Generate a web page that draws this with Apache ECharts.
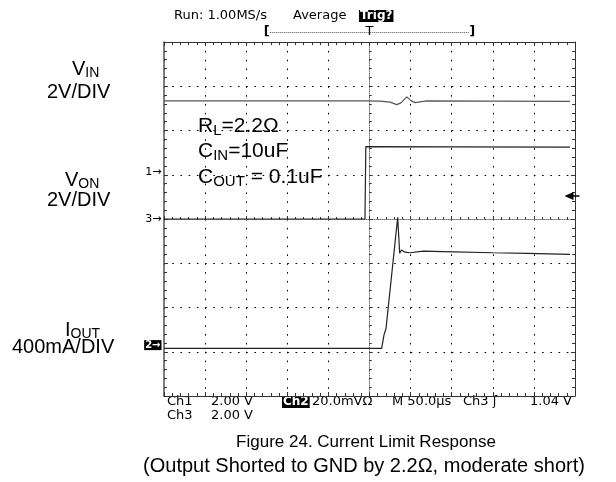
<!DOCTYPE html>
<html><head><meta charset="utf-8">
<script src="https://cdn.jsdelivr.net/npm/echarts@6/dist/echarts.min.js"></script>
<style>html,body{margin:0;padding:0;background:#fff}#c{width:616px;height:482px}</style>
</head><body><div id="c"></div>
<script>
// ---- Time base: 50 µs/div, 10 divisions, trigger at centre ----
const timeMin = -250, timeMax = 250, timeDiv = 50;
// ---- VIN (Ch1, 2 V/div) ----
const vinTime  = [-250, -5, 12.8, 25, 33.1, 38.3, 45.3, 50.5, 55.4, 69.6, 150, 244];
const vinVolts = [3.24, 3.24, 3.23, 3.18, 3.07, 3.15, 3.42, 3.25, 3.16, 3.24, 3.23, 3.22];
// ---- VON (Ch3, 2 V/div) ----
const vonTime  = [-250, -5.5, -4.5, 100, 244];
const vonVolts = [0, 0, 3.27, 3.26, 3.25];
// ---- IOUT (Ch2, 400 mA/div) ----
const ioutTime = [-250, 14.8, 17.6, 20.1, 34.3, 35.6, 36.7, 38.9, 43.2, 49.3, 65.5, 89.4, 150.2, 191.6, 243.9];
const ioutAmps = [-0.03, -0.03, 0.09, 0.15, 1.155, 1.15, 0.83, 0.86, 0.84, 0.835, 0.85, 0.845, 0.835, 0.83, 0.82];
// ---- Channel settings (ground position in divisions from centre, units per division) ----
const ch1Offset = 1.05, ch1Scale = 2;
const ch3Offset = 0,    ch3Scale = 2;
const ch2Offset = -2.85, ch2Scale = 0.4;
const triggerLevel = 1.04; // V on Ch3
const recordWindow = [-125, 125];

const toDiv = (ts, vs, off, sc) => ts.map((t, i) => [t, off + vs[i] / sc]);

const chart = echarts.init(document.getElementById('c'));
const AX = '#333';
const tickCommon = (inside, len) => ({
  show: true, inside: inside, length: len, lineStyle: { color: AX, width: 1 }
});
const minorCommon = (len) => ({ show: true, splitNumber: 5, length: len, lineStyle: { color: AX, width: 1 } });

const xBase = { type: 'value', min: timeMin, max: timeMax, interval: timeDiv, gridIndex: 0, axisLabel: { show: false } };
const yBase = { type: 'value', min: -4, max: 4, interval: 1, gridIndex: 0, axisLabel: { show: false } };

const SF = 'Liberation Sans, Arial, sans-serif';
const SCOPE = 'DejaVu Sans, sans-serif';
const mk = (label, extra) => Object.assign({
  symbol: 'circle', symbolSize: 1, itemStyle: { color: 'rgba(0,0,0,0)' },
  label: { show: true, formatter: label, position: 'left', distance: 2, color: '#000', fontFamily: SCOPE, fontSize: 11 }
}, extra);

chart.setOption({
  animation: false,
  backgroundColor: '#fff',
  grid: { left: 164, right: 41, top: 42, bottom: 86, containLabel: false },
  xAxis: [
    Object.assign({}, xBase, { position: 'bottom', axisLine: { onZero: false, lineStyle: { color: AX } },
      axisTick: tickCommon(true, 4), minorTick: minorCommon(3),
      splitLine: { show: true, lineStyle: { color: '#000', width: 1, type: [1.6, 7.25] } } }),
    Object.assign({}, xBase, { position: 'top', axisLine: { onZero: false, lineStyle: { color: AX } },
      axisTick: tickCommon(true, 4), minorTick: minorCommon(3), splitLine: { show: false } }),
    Object.assign({}, xBase, { position: 'bottom', axisLine: { onZero: true, lineStyle: { color: '#777', type: [1, 1] } },
      axisTick: tickCommon(true, 3), minorTick: minorCommon(2), splitLine: { show: false } }),
    Object.assign({}, xBase, { position: 'top', axisLine: { show: false, onZero: true },
      axisTick: tickCommon(false, 3), minorTick: minorCommon(2), splitLine: { show: false } })
  ],
  yAxis: [
    Object.assign({}, yBase, { position: 'left', axisLine: { onZero: false, show: true, lineStyle: { color: '#555', width: 1.5 } },
      axisTick: tickCommon(true, 4), minorTick: minorCommon(3),
      splitLine: { show: true, lineStyle: { color: '#000', width: 1, type: [1.6, 6.62] } } }),
    Object.assign({}, yBase, { position: 'right', axisLine: { onZero: false, show: true, lineStyle: { color: AX } },
      axisTick: tickCommon(true, 4), minorTick: minorCommon(3), splitLine: { show: false } }),
    Object.assign({}, yBase, { position: 'left', axisLine: { onZero: true, show: true, lineStyle: { color: '#777', type: [1, 1] } },
      axisTick: tickCommon(true, 3), minorTick: minorCommon(2), splitLine: { show: false } }),
    Object.assign({}, yBase, { position: 'right', axisLine: { onZero: true, show: false },
      axisTick: tickCommon(false, 3), minorTick: minorCommon(2), splitLine: { show: false } })
  ],
  series: [
    { name: 'VIN', type: 'line', xAxisIndex: 0, yAxisIndex: 0, showSymbol: false, symbol: 'none',
      data: toDiv(vinTime, vinVolts, ch1Offset, ch1Scale),
      lineStyle: { color: '#555', width: 1.2 },
      markPoint: { data: [ mk('1→', { coord: [timeMin, ch1Offset] }) ] } },
    { name: 'VON', type: 'line', xAxisIndex: 0, yAxisIndex: 0, showSymbol: false, symbol: 'none',
      data: toDiv(vonTime, vonVolts, ch3Offset, ch3Scale),
      lineStyle: { color: '#222', width: 1.2 },
      markPoint: { data: [
        mk('3→', { coord: [timeMin, ch3Offset] }),
        { coord: [timeMax, ch3Offset + triggerLevel / ch3Scale], symbol: 'triangle', symbolRotate: 90,
          symbolSize: [8, 9], symbolOffset: [-6, 0], itemStyle: { color: '#000' }, label: { show: false } },
        { coord: [timeMax, ch3Offset + triggerLevel / ch3Scale], symbol: 'rect',
          symbolSize: [9, 1.5], symbolOffset: [0, 0], itemStyle: { color: '#000' }, label: { show: false } }
      ] } },
    { name: 'IOUT', type: 'line', xAxisIndex: 0, yAxisIndex: 0, showSymbol: false, symbol: 'none',
      data: toDiv(ioutTime, ioutAmps, ch2Offset, ch2Scale),
      lineStyle: { color: '#222', width: 1.2 },
      markPoint: { data: [
        mk('2→', { coord: [timeMin, ch2Offset], label: { show: true, formatter: '2→', position: 'left', distance: 2,
          color: '#fff', backgroundColor: '#000', padding: [0, 1, 0, 1], fontFamily: SCOPE, fontSize: 10, fontWeight: 'bold' } })
      ] } }
  ]
});

// --- Decorations / text ---
const p = (t) => chart.convertToPixel({ xAxisIndex: 0 }, t);
const xL = p(recordWindow[0]), xR = p(recordWindow[1]), xT = p(0);
const sub = (size, pad) => ({ fontSize: size, fontFamily: SF, fill: '#000', padding: [pad, 0, 0, 0] });
const main = (size) => ({ fontSize: size, fontFamily: SF, fill: '#000' });
const txt = (x, y, text, o) => ({ type: 'text', x: x, y: y, silent: true,
  style: Object.assign({ text: text, fill: '#000', textVerticalAlign: 'middle' }, o) });
const scope = { font: '13px ' + SCOPE };
const big = { font: '20px ' + SF };
const richBig = { m: main(20), s: sub(14, 9) };
const richAnn = { m: main(21), s: sub(15, 9) };
const inv = Object.assign({}, scope, { fill: '#fff', backgroundColor: '#000', padding: [0, 1, 0, 1], font: 'bold 12px ' + SCOPE });

chart.setOption({
  graphic: [
    txt(174, 16, 'Run: 1.00MS/s', scope),
    txt(293, 16, 'Average', scope),
    txt(359, 16, 'Trig?', inv),
    txt(xL, 32, '[', Object.assign({}, scope, { textAlign: 'center', font: 'bold 13px ' + SCOPE })),
    txt(xR, 32, ']', Object.assign({}, scope, { textAlign: 'center', font: 'bold 13px ' + SCOPE })),
    txt(xT, 32, 'T', Object.assign({}, scope, { textAlign: 'center' })),
    { type: 'line', silent: true, shape: { x1: xL + 3, y1: 32.5, x2: xR - 3, y2: 32.5 },
      style: { stroke: '#555', lineWidth: 1, lineDash: [1, 1] } },

    txt(167, 402, 'Ch1', scope),
    txt(211, 402, '2.00 V', scope),
    txt(282, 402, 'Ch2', inv),
    txt(312, 402, '20.0mVΩ', scope),
    txt(392, 402, 'M 50.0µs', scope),
    txt(463, 402, 'Ch3 \u0283', scope),
    txt(530, 402, '1.04 V', scope),
    txt(167, 416, 'Ch3', scope),
    txt(211, 416, '2.00 V', scope),

    txt(72, 69, '{m|V}{s|IN}', { rich: richBig }),
    txt(47, 92.5, '2V/DIV', big),
    txt(65, 180, '{m|V}{s|ON}', { rich: richBig }),
    txt(47, 200, '2V/DIV', big),
    txt(65, 330, '{m|I}{s|OUT}', { rich: richBig }),
    txt(12, 347.5, '400mA/DIV', big),

    txt(198, 126, '{m|R}{s|L}{m|=2.2Ω}', { rich: richAnn }),
    txt(198, 151, '{m|C}{s|IN}{m|=10uF}', { rich: richAnn }),
    txt(198, 177, '{m|C}{s|OUT}{m| = 0.1uF}', { rich: richAnn }),

    txt(366, 442, 'Figure 24. Current Limit Response', { font: '17px ' + SF, textAlign: 'center' }),
    txt(364, 466, '(Output Shorted to GND by 2.2Ω, moderate short)', { font: '20px ' + SF, textAlign: 'center' })
  ]
});
</script></body></html>
